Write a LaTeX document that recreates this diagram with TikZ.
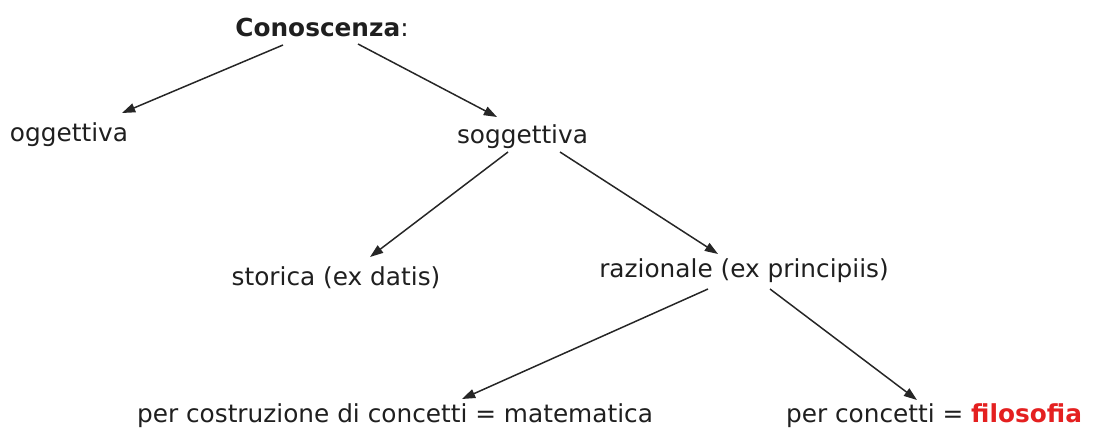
\documentclass[tikz,border=0pt]{standalone}
\usepackage{fontspec}
\setmainfont{DejaVu Sans}
\usetikzlibrary{arrows.meta}
\definecolor{filored}{RGB}{228,32,32}

\begin{document}
\begin{tikzpicture}[
    lbl/.style={font=\fontsize{14.1}{17}\selectfont, text=black!88, inner sep=0pt, anchor=base},
    arr/.style={-{Triangle[length=7.5pt,width=5.2pt]}, line width=0.85pt, black!85}
]
\useasboundingbox (0,0) rectangle (21.88,-8.60);
\node[lbl] (con) at (6.44,-0.72) {\textbf{Conoscenza}:};
\node[lbl] (ogg) at (1.38,-2.82) {oggettiva};
\node[lbl] (sog) at (10.45,-2.86) {soggettiva};
\node[lbl] (sto) at (6.72,-5.70) {storica (ex datis)};
\node[lbl] (raz) at (14.88,-5.54) {razionale (ex principiis)};
\node[lbl] (mat) at (7.90,-8.44) {per costruzione di concetti = matematica};
\node[lbl] (fil) at (18.68,-8.44) {per concetti = \textcolor{filored}{\textbf{filosofia}}};

\draw[arr] ([shift={(-0.78,-0.18)}]con.base) -- ([shift={(1.06,0.56)}]ogg.base);
\draw[arr] ([shift={(0.72,-0.16)}]con.base) -- ([shift={(-0.51,0.52)}]sog.base);
\draw[arr] ([shift={(-0.29,-0.18)}]sog.base) -- ([shift={(0.68,0.56)}]sto.base);
\draw[arr] ([shift={(0.75,-0.18)}]sog.base) -- ([shift={(-0.52,0.46)}]raz.base);
\draw[arr] ([shift={(-0.72,-0.24)}]raz.base) -- ([shift={(1.34,0.46)}]mat.base);
\draw[arr] ([shift={(0.52,-0.24)}]raz.base) -- ([shift={(-0.34,0.44)}]fil.base);
\end{tikzpicture}
\end{document}
